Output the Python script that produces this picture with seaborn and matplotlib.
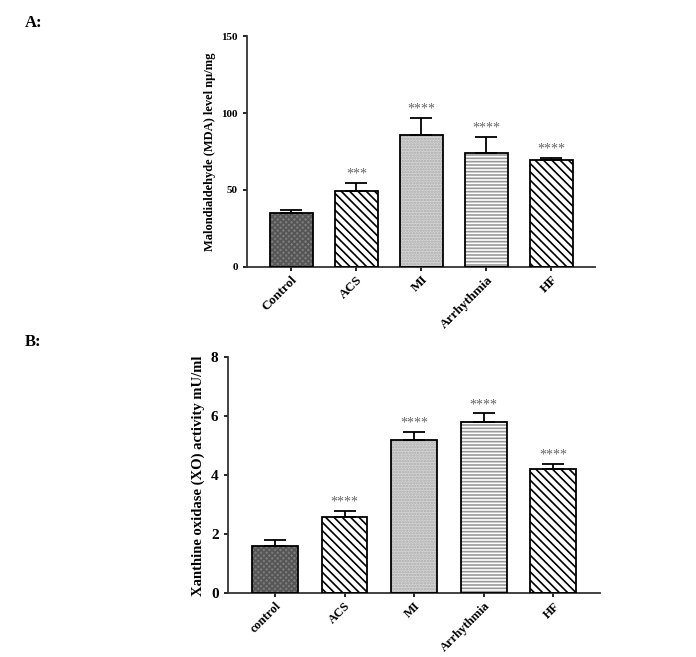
import matplotlib
matplotlib.use("Agg")
import matplotlib.pyplot as plt
import matplotlib.patches as mpatches
import seaborn as sns
import pandas as pd
import numpy as np

# Panel A data
cats_a = ["Control", "ACS", "MI", "Arrhythmia", "HF"]
mda_mean = [35.0, 49.5, 85.7, 74.2, 69.5]
mda_err = [2.0, 5.0, 11.0, 10.0, 1.2]
mda_sig = ["", "***", "****", "****", "****"]

# Panel B data
cats_b = ["control", "ACS", "MI", "Arrhythmia", "HF"]
xo_mean = [1.6, 2.6, 5.2, 5.8, 4.2]
xo_err = [0.2, 0.18, 0.27, 0.3, 0.18]
xo_sig = ["", "****", "****", "****", "****"]

sns.set_theme(style="ticks")
plt.rcParams["font.family"] = ["Liberation Serif", "DejaVu Serif"]
plt.rcParams["hatch.linewidth"] = 1.2
for k in ["text.color", "axes.labelcolor", "xtick.color", "ytick.color"]:
    plt.rcParams[k] = "black"

# style per category: (facecolor, hatch, hatchcolor)
styles = [
    ("#7a7a7a", "xxxxxx", "#555555"),
    ("white", "\\\\\\\\", "black"),
    ("#d6d6d6", "......", "#aaaaaa"),
    ("white", "-----", "#999999"),
    ("white", "\\\\\\\\", "black"),
]

fig = plt.figure(figsize=(6.96, 6.57), dpi=100)
ax_a = fig.add_axes([0.355, 0.594, 0.500, 0.351])
ax_b = fig.add_axes([0.327, 0.097, 0.535, 0.359])


def draw(ax, cats, means, errs, sigs, ylim, yticks, ylabel, ytick_fs, xtick_fs, lab_fs, star_off):
    df = pd.DataFrame({"cat": cats, "val": means})
    sns.barplot(data=df, x="cat", y="val", order=cats, ax=ax, width=0.66,
                color="white", errorbar=None, linewidth=1.3, edgecolor="black")
    for p, (fc, h, hc) in zip(ax.patches, styles):
        p.set_facecolor(fc)
        p.set_hatch(h)
        p.set_edgecolor(hc)
        p.set_linewidth(0)
        outline = mpatches.Rectangle(p.get_xy(), p.get_width(), p.get_height(),
                                     fill=False, edgecolor="black", linewidth=1.3, zorder=3)
        ax.add_patch(outline)
    x = np.arange(len(cats))
    ax.errorbar(x, means, yerr=[np.zeros(len(errs)), errs], fmt="none",
                ecolor="black", elinewidth=1.3, capsize=8, capthick=1.3, zorder=2)
    for i, (m, e, s) in enumerate(zip(means, errs, sigs)):
        if s:
            ax.text(i, m + e + star_off, s, ha="center", va="bottom",
                    color="#666666", fontsize=10)
    ax.set_ylim(*ylim)
    ax.set_xlim(-0.68, len(cats) - 0.33)
    ax.set_yticks(yticks)
    ax.set_xlabel("")
    ax.set_ylabel(ylabel, fontsize=lab_fs, fontweight="bold")
    sns.despine(ax=ax)
    for sp in ["left", "bottom"]:
        ax.spines[sp].set_linewidth(1.3)
        ax.spines[sp].set_color("#333333")
    ax.tick_params(axis="both", length=3, width=1.2, labelsize=ytick_fs)
    ax.tick_params(axis="x", pad=2)
    for t in ax.get_yticklabels():
        t.set_fontweight("bold")
    ax.set_xticks(x)
    ax.set_xticklabels(cats, rotation=45, ha="right", rotation_mode="anchor",
                       fontweight="bold", fontsize=xtick_fs)


draw(ax_a, cats_a, mda_mean, mda_err, mda_sig, (0, 150), [0, 50, 100, 150],
     "Malondialdehyde (MDA) level n\u03bc/mg", 8, 9.5, 9, 1.5)
draw(ax_b, cats_b, xo_mean, xo_err, xo_sig, (0, 8), [0, 2, 4, 6, 8],
     "Xanthine oxidase (XO) activity mU/ml", 11, 9, 10.5, 0.08)

fig.text(0.036, 0.965, "A:", fontsize=12, fontweight="bold", va="center")
fig.text(0.036, 0.48, "B:", fontsize=12, fontweight="bold", va="center")

fig.savefig("out.png", dpi=100)
